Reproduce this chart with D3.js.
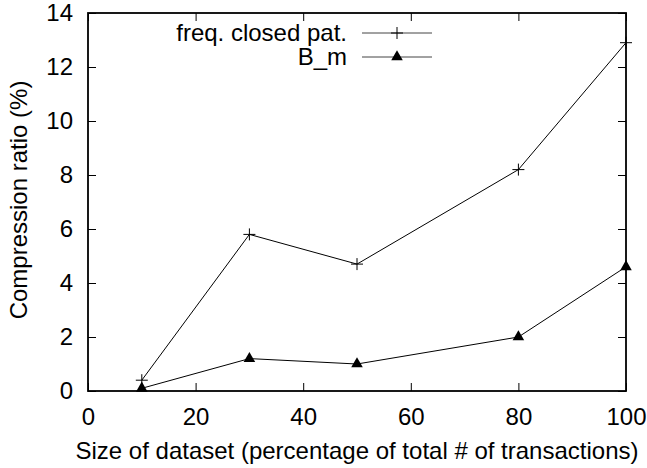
<!DOCTYPE html>
<html>
<head>
<meta charset="utf-8">
<script src="https://cdn.jsdelivr.net/npm/d3@7"></script>
<style>
  html, body { margin: 0; padding: 0; background: #fff; }
  svg { display: block; }
  text { font-family: "Liberation Sans", Arial, Helvetica, sans-serif; fill: #000; }
</style>
</head>
<body>
<svg id="chart" width="647" height="468"></svg>
<script>
// Dataset sizes (% of total transactions)
const sizes = [10, 30, 50, 80, 100];
// Compression ratio (%) per method
const freqClosed = [0.4, 5.8, 4.7, 8.2, 12.9];
const bM = [0.1, 1.2, 1.0, 2.0, 4.6];
const seriesNames = ["freq. closed pat.", "B_m"];
const xTicks = [0, 20, 40, 60, 80, 100];
const yTicks = [0, 2, 4, 6, 8, 10, 12, 14];

const svg = d3.select("#chart");
const margin = { left: 88, right: 21, top: 13, bottom: 77 };
const W = 647, H = 468;
const x = d3.scaleLinear().domain([0, 100]).range([margin.left, W - margin.right]);
const y = d3.scaleLinear().domain([0, 14]).range([H - margin.bottom, margin.top]);
const fs = 24;
const tickLen = 8;

// mirrored inward ticks on all four sides
const g = svg.append("g");
const axB = d3.axisBottom(x).tickValues(xTicks).tickSizeInner(-tickLen).tickSizeOuter(0).tickPadding(17);
const axT = d3.axisTop(x).tickValues(xTicks).tickSizeInner(-tickLen).tickSizeOuter(0).tickFormat("");
const axL = d3.axisLeft(y).tickValues(yTicks).tickSizeInner(-tickLen).tickSizeOuter(0).tickPadding(15);
const axR = d3.axisRight(y).tickValues(yTicks).tickSizeInner(-tickLen).tickSizeOuter(0).tickFormat("");

function styleAxis(sel) {
  sel.select(".domain").remove();
  sel.selectAll(".tick line").attr("stroke", "#000").attr("stroke-width", 1);
  sel.selectAll(".tick text").style("font-size", fs + "px").attr("fill", "#000");
}
g.append("g").attr("transform", `translate(0,${y(0)})`).call(axB).call(styleAxis);
g.append("g").attr("transform", `translate(0,${y(14)})`).call(axT).call(styleAxis);
g.append("g").attr("transform", `translate(${x(0)},0)`).call(axL).call(styleAxis);
g.append("g").attr("transform", `translate(${x(100)},0)`).call(axR).call(styleAxis);

// frame
svg.append("rect")
  .attr("x", x(0)).attr("y", y(14))
  .attr("width", x(100) - x(0)).attr("height", y(0) - y(14))
  .attr("fill", "none").attr("stroke", "#000").attr("stroke-width", 1.8);

// axis titles
svg.append("text")
  .attr("x", (x(0) + x(100)) / 2).attr("y", 459)
  .attr("text-anchor", "middle").style("font-size", fs + "px")
  .text("Size of dataset (percentage of total # of transactions)");
svg.append("text")
  .attr("transform", `translate(27,200) rotate(-90)`)
  .attr("text-anchor", "middle").style("font-size", fs + "px")
  .text("Compression ratio (%)");

const line = d3.line().x(d => x(d[0])).y(d => y(d[1]));
const tri = d3.symbol().type(d3.symbolTriangle).size(58);

function plus(sel, cx, cy, r) {
  sel.append("path")
    .attr("d", `M${cx - r},${cy}H${cx + r}M${cx},${cy - r}V${cy + r}`)
    .attr("stroke", "#000").attr("stroke-width", 1).attr("fill", "none");
}

const s1 = sizes.map((s, i) => [s, freqClosed[i]]);
const s2 = sizes.map((s, i) => [s, bM[i]]);

svg.append("path").datum(s1).attr("d", line)
  .attr("fill", "none").attr("stroke", "#000").attr("stroke-width", 1);
svg.append("path").datum(s2).attr("d", line)
  .attr("fill", "none").attr("stroke", "#000").attr("stroke-width", 1);

const m1 = svg.append("g");
s1.forEach(d => plus(m1, x(d[0]), y(d[1]), 6));
svg.append("g").selectAll("path").data(s2).join("path")
  .attr("d", tri)
  .attr("transform", d => `translate(${x(d[0])},${y(d[1])})`)
  .attr("fill", "#000");

// legend
const leg = svg.append("g");
const lx1 = 362, lx2 = 432, tx = 347;
[33, 57].forEach((ly, i) => {
  leg.append("text").attr("x", tx).attr("y", ly).attr("dy", "0.35em")
    .attr("text-anchor", "end").style("font-size", fs + "px").text(seriesNames[i]);
  leg.append("line").attr("x1", lx1).attr("x2", lx2).attr("y1", ly).attr("y2", ly)
    .attr("stroke", "#444").attr("stroke-width", 1);
  const mx = (lx1 + lx2) / 2;
  if (i === 0) plus(leg, mx, ly, 6);
  else leg.append("path").attr("d", tri).attr("transform", `translate(${mx},${ly})`).attr("fill", "#000");
});
</script>
</body>
</html>
